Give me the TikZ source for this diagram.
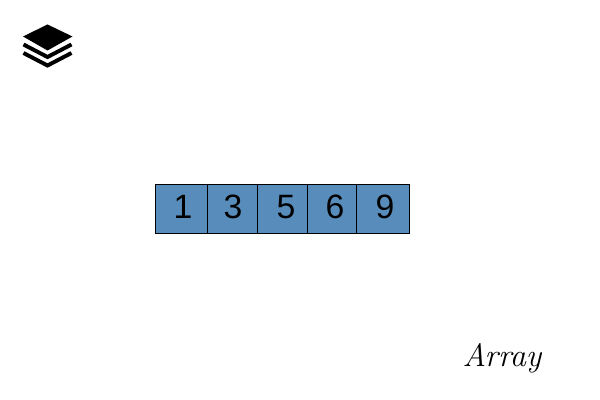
\documentclass[tikz,border=0pt]{standalone}
\usepackage{fontspec}
\setmainfont{Liberation Sans}
\usetikzlibrary{positioning}
\tikzset{
  cell/.style={draw=black, fill=cellblue, line width=0.6pt, minimum height=1.225cm, inner sep=0pt},
  digit/.style={font=\fontsize{24}{24}\selectfont, text=black, inner sep=0pt, anchor=base},
  stackline/.style={draw=black, line width=2.8pt, line join=miter}
}
\definecolor{cellblue}{RGB}{88,141,187}
\newfontfamily\handfont{Latin Modern Roman}
\begin{document}
\begin{tikzpicture}[x=0.025cm, y=-0.025cm]
  \useasboundingbox (0,0) rectangle (600,400);
  % stack icon
  \fill[black] (47.5,24.5) -- (72.5,36.5) -- (47.5,50.5) -- (23,36.5) -- cycle;
  \draw[stackline] (23.5,44.5) -- (47.5,57) -- (71.5,44.5);
  \draw[stackline] (23.5,53) -- (47.5,65.5) -- (71.5,53);
  % array cells
  \foreach \n/\cx/\w/\dx/\val in {
      a/181.5/52/183/1, b/232.5/50/233/3, c/282.5/50/286/5,
      d/332/49/335/6, e/383/53/385/9}{
    \node[cell, minimum width=\w*0.025cm] (cell\n) at (\cx,209) {};
    \node[digit] (digit\n) at (\dx,218.5) {\val};
  }
  % caption
  \node[font=\handfont\itshape\fontsize{23}{23}\selectfont, inner sep=0pt] (caption) at (502,358) {Array};
\end{tikzpicture}
\end{document}
